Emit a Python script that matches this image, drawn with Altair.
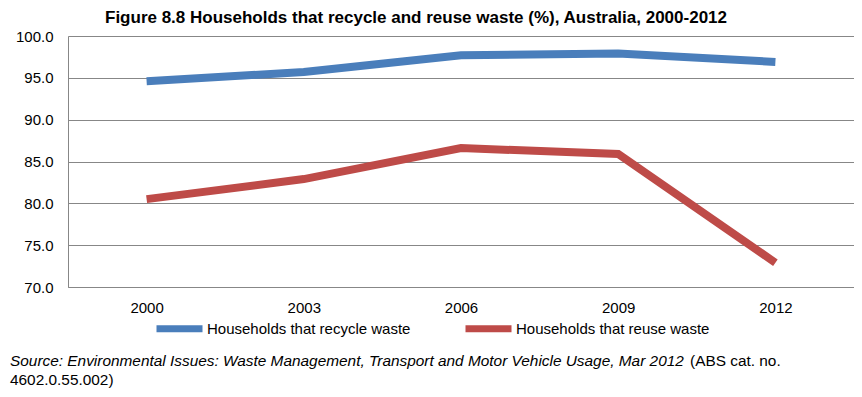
import altair as alt
import pandas as pd

years = ["2000", "2003", "2006", "2009", "2012"]
recycle = [94.6, 95.7, 97.7, 97.9, 96.9]
reuse = [80.5, 82.9, 86.6, 85.9, 72.9]
series = ["Households that recycle waste", "Households that reuse waste"]
colors = ["#4A7EBB", "#BE4B48"]
y_ticks = [70, 75, 80, 85, 90, 95, 100]
title_text = "Figure 8.8 Households that recycle and reuse waste (%), Australia, 2000-2012"
source_italic = "Source:  Environmental Issues: Waste Management, Transport and Motor Vehicle Usage, Mar 2012"
source_plain1 = "(ABS cat. no."
source_plain2 = "4602.0.55.002)"

rows = []
for s, vals in zip(series, [recycle, reuse]):
    for yr, v in zip(years, vals):
        rows.append({"Year": yr, "Value": v, "Series": s})
df = pd.DataFrame(rows)

W, H = 786, 251
FONT = "Liberation Sans"
GRID = "#878787"

lines = alt.Chart(df).mark_line(strokeWidth=8, strokeJoin="miter").encode(
    x=alt.X("Year:N", sort=years,
            axis=alt.Axis(title=None, labelAngle=0, ticks=False, domain=True,
                          domainColor=GRID, labelFontSize=15, labelPadding=13,
                          labelColor="#000000", labelFont=FONT)),
    y=alt.Y("Value:Q", scale=alt.Scale(domain=[70, 100], nice=False, zero=False),
            axis=alt.Axis(title=None, values=y_ticks, format=".1f", ticks=False,
                          domainColor=GRID, gridColor=GRID, gridOpacity=1,
                          labelPadding=15, labelFontSize=15, labelColor="#000000",
                          labelFont=FONT)),
    color=alt.Color("Series:N", scale=alt.Scale(domain=series, range=colors),
                    legend=alt.Legend(title=None, orient="none", legendX=85, legendY=266,
                                      direction="horizontal", symbolType="stroke",
                                      symbolStrokeWidth=7, symbolSize=2116,
                                      labelFontSize=15, labelFont=FONT, labelColor="#000000",
                                      labelOffset=1, columnPadding=40, labelLimit=400)),
)

src1 = alt.Chart(pd.DataFrame({"t": [source_italic]})).mark_text(
    align="left", baseline="alphabetic", fontStyle="italic",
    fontSize=15.4, font=FONT, color="#000000").encode(
    x=alt.value(-58), y=alt.value(330), text="t:N")
src2 = alt.Chart(pd.DataFrame({"t": [source_plain1]})).mark_text(
    align="left", baseline="alphabetic", fontSize=15.4, font=FONT, color="#000000").encode(
    x=alt.value(622), y=alt.value(330), text="t:N")
src3 = alt.Chart(pd.DataFrame({"t": [source_plain2]})).mark_text(
    align="left", baseline="alphabetic", fontSize=15.4, font=FONT, color="#000000").encode(
    x=alt.value(-58), y=alt.value(349), text="t:N")

chart = alt.layer(lines, src1, src2, src3).properties(
    width=W, height=H,
    title=alt.TitleParams(title_text, font=FONT, fontSize=17, fontWeight="bold",
                          anchor="middle", dx=-45, offset=2, color="#000000"),
    autosize=alt.AutoSizeParams(type="none"),
    padding={"left": 60, "top": 28, "right": 0, "bottom": 102},
).configure_view(stroke=None).configure(background="white")

chart.save("out.html", embed_options={"renderer": "svg", "actions": False})
